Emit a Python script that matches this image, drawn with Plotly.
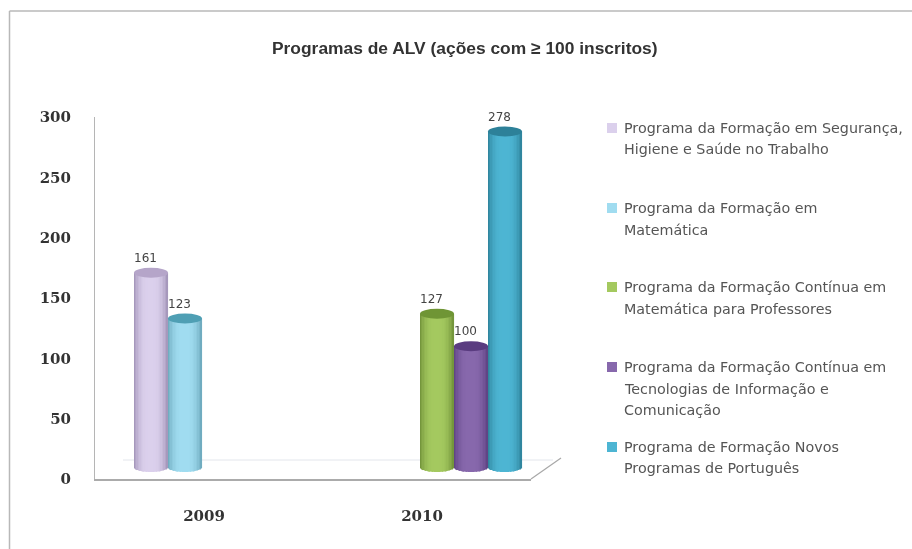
import math
import plotly.graph_objects as go

# ---- data ----
categories = ["2009", "2010"]
series_names = [
    "Programa da Formação em Segurança, Higiene e Saúde no Trabalho",
    "Programa da Formação em Matemática",
    "Programa da Formação Contínua em Matemática para Professores",
    "Programa da Formação Contínua em Tecnologias de Informação e Comunicação",
    "Programa de Formação Novos Programas de Português",
]
s1_values = [161, None]
s2_values = [123, None]
s3_values = [None, 127]
s4_values = [None, 100]
s5_values = [None, 278]
y_ticks = [0, 50, 100, 150, 200, 250, 300]

legend_lines = [
    ["Programa da Formação em Segurança,", "Higiene e Saúde no Trabalho"],
    ["Programa da Formação em", "Matemática"],
    ["Programa da Formação Contínua em", "Matemática para Professores"],
    ["Programa da Formação Contínua em", "Tecnologias de Informação e", "Comunicação"],
    ["Programa de Formação Novos", "Programas de Português"],
]
legend_y_px = [[128, 149], [208, 230], [287, 309], [367, 389, 410], [447, 468]]

body_colors = ["#DBD0EC", "#A0DCF0", "#A4C95F", "#8768AC", "#4DB5D3"]
edge_colors = ["#9F90B5", "#6AA6BA", "#6E8F37", "#5B4080", "#2C8098"]
cap_colors = ["#B5A5C9", "#4F9FB4", "#6F9535", "#5A3C80", "#2D8199"]
all_values = [s1_values, s2_values, s3_values, s4_values, s5_values]

W, H = 912, 549
px_x = lambda p: p / W
px_y = lambda p: 1 - p / H

# geometry
X_FRONT = (95, 531)
X_BARS = (110, 546)
Y_FRONT = (479, 117)       # px of 0 and 300 on the front (labelled) axis
PX_PER_UNIT = (479 - 117) / 300
Y0_BAR = 467               # px of value 0 on the bars' plane
Y_BOTTOM = 484             # plot bottom used by the bars axis
Y_TOP = 105
bar_range = [-(Y_BOTTOM - Y0_BAR) / PX_PER_UNIT, (Y0_BAR - Y_TOP) / PX_PER_UNIT]


def hex_rgb(h):
    return [int(h[i:i + 2], 16) for i in (1, 3, 5)]


def mix(a, b, t):
    ra, rb = hex_rgb(a), hex_rgb(b)
    return "rgb(%d,%d,%d)" % tuple(round(p + (q - p) * t) for p, q in zip(ra, rb))


SLOT = 34 / 218
GROUP_LEFT = -2.5 * SLOT
N_STRIPS = 24
CAP_UNITS = 5 / PX_PER_UNIT

fig = go.Figure()
shapes = []
for i, (vals, name) in enumerate(zip(all_values, series_names)):
    xs, ys, bases, widths, offs, cols = [], [], [], [], [], []
    for c, v in enumerate(vals):
        if v is None:
            continue
        for k in range(N_STRIPS):
            u = (k + 0.5) / N_STRIPS * 2 - 1
            drop = CAP_UNITS * math.sqrt(1 - u * u)
            xs.append(c)
            bases.append(-drop)
            ys.append(v + drop)
            widths.append(SLOT / N_STRIPS * 1.05)
            offs.append(GROUP_LEFT + i * SLOT + k * SLOT / N_STRIPS)
            cols.append(mix(body_colors[i], edge_colors[i], abs(u) ** 3))
        x0 = c + GROUP_LEFT + i * SLOT
        shapes.append(dict(type="circle", xref="x2", yref="y", x0=x0, x1=x0 + SLOT,
                           y0=v - CAP_UNITS, y1=v + CAP_UNITS,
                           fillcolor=cap_colors[i], line=dict(width=0)))
    fig.add_trace(go.Bar(x=xs, y=ys, base=bases, width=widths, offset=offs, name=name,
                         marker=dict(color=cols, line=dict(width=0)),
                         xaxis="x2", yaxis="y", showlegend=False, hoverinfo="skip"))
    label_x = [c + GROUP_LEFT + (i + 0.34) * SLOT for c, v in enumerate(vals) if v is not None]
    label_y = [v + 6.5 for v in vals if v is not None]
    label_t = [str(v) for v in vals if v is not None]
    fig.add_trace(go.Scatter(x=label_x, y=label_y, text=label_t, mode="text", textposition="top center",
                             textfont=dict(family="DejaVu Sans", size=12, color="#444444"),
                             xaxis="x2", yaxis="y", showlegend=False, hoverinfo="skip"))

# invisible trace so that the labelled front axes exist
fig.add_trace(go.Scatter(x=[0, 1], y=[0, 0], mode="markers", marker=dict(opacity=0),
                         xaxis="x", yaxis="y2", showlegend=False, hoverinfo="skip"))

# frame (left and top edges only; the others run off the picture) and floor
shapes.append(dict(type="line", xref="paper", yref="paper", x0=px_x(9.5), x1=px_x(9.5), y0=0, y1=px_y(11),
                   line=dict(color="#B8B8B8", width=1.5), layer="below"))
shapes.append(dict(type="line", xref="paper", yref="paper", x0=px_x(9.5), x1=1, y0=px_y(11), y1=px_y(11),
                   line=dict(color="#B8B8B8", width=1.5), layer="below"))
shapes.append(dict(type="line", xref="paper", yref="paper", x0=px_x(123), x1=px_x(553), y0=px_y(460), y1=px_y(460),
                   line=dict(color="#E3E6EC", width=1), layer="below"))
shapes.append(dict(type="line", xref="paper", yref="paper", x0=px_x(531), x1=px_x(561), y0=px_y(479), y1=px_y(458),
                   line=dict(color="#A8A8A8", width=1.2), layer="below"))

annotations = [dict(text="<b>Programas de ALV (ações com ≥ 100 inscritos)</b>", xref="paper", yref="paper",
                    x=px_x(465.5), y=px_y(47.5), showarrow=False, xanchor="center", yanchor="middle",
                    font=dict(family="Liberation Sans", size=17.4, color="#333333"))]
for i, lines in enumerate(legend_lines):
    for line, yp in zip(lines, legend_y_px[i]):
        annotations.append(dict(text=line, xref="paper", yref="paper", x=px_x(622), y=px_y(yp),
                                showarrow=False, xanchor="left", yanchor="middle",
                                font=dict(family="DejaVu Sans", size=14.3, color="#555555")))
    yc = legend_y_px[i][0]
    shapes.append(dict(type="rect", xref="paper", yref="paper", x0=px_x(607), x1=px_x(617),
                       y0=px_y(yc - 5), y1=px_y(yc + 5), fillcolor=body_colors[i], line=dict(width=0)))

tick_font = dict(family="DejaVu Serif", size=15, color="#333333", weight="bold")
fig.update_layout(
    width=W, height=H, margin=dict(l=0, r=0, t=0, b=0, pad=0, autoexpand=False),
    paper_bgcolor="white", plot_bgcolor="rgba(0,0,0,0)",
    barmode="overlay", showlegend=False, shapes=shapes, annotations=annotations,
    xaxis=dict(domain=[px_x(X_FRONT[0]), px_x(X_FRONT[1])], range=[-0.5, 1.5], anchor="y2",
               tickvals=[0, 1], ticktext=categories, ticks="", showgrid=False, zeroline=False,
               showline=True, linecolor="#ABABAB", linewidth=2, ticklabelstandoff=22,
               tickfont=tick_font),
    xaxis2=dict(domain=[px_x(X_BARS[0]), px_x(X_BARS[1])], range=[-0.5, 1.5], anchor="y", visible=False),
    yaxis=dict(domain=[px_y(Y_BOTTOM), px_y(Y_TOP)], range=bar_range, anchor="x2", visible=False),
    yaxis2=dict(domain=[px_y(Y_FRONT[0]), px_y(Y_FRONT[1])], range=[0, 300], anchor="x",
                tickvals=y_ticks, ticks="", showgrid=False, zeroline=False,
                showline=True, linecolor="#B5B5B5", linewidth=1, ticklabelstandoff=20,
                tickfont=tick_font),
)

fig.write_html("out.html", config=dict(displayModeBar=False),
               post_script="document.body.style.margin='0';document.documentElement.style.overflow='hidden';"
                           "document.querySelector('.plotly-graph-div').style.filter='blur(0.6px)';")
